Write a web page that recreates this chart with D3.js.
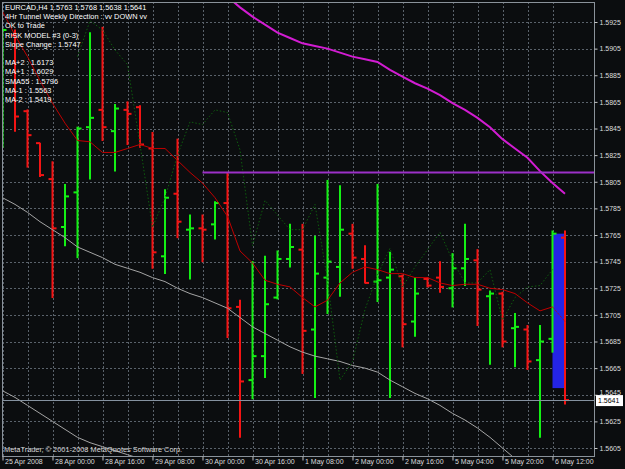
<!DOCTYPE html>
<html>
<head>
<meta charset="utf-8">
<script src="https://cdn.jsdelivr.net/npm/d3@7/dist/d3.min.js"></script>
<style>
body { margin: 0; background: #0b0d0f; }
text { font-family: "Liberation Sans", Arial, sans-serif; }
</style>
</head>
<body>
<div id="chart"></div>
<script>
// H4 bars, EURCAD
const barTimes = [
  "25.04 08:00","25.04 12:00","25.04 16:00","25.04 20:00",
  "28.04 00:00","28.04 04:00","28.04 08:00","28.04 12:00","28.04 16:00","28.04 20:00",
  "29.04 00:00","29.04 04:00","29.04 08:00","29.04 12:00","29.04 16:00","29.04 20:00",
  "30.04 00:00","30.04 04:00","30.04 08:00","30.04 12:00","30.04 16:00","30.04 20:00",
  "01.05 00:00","01.05 04:00","01.05 08:00","01.05 12:00","01.05 16:00","01.05 20:00",
  "02.05 00:00","02.05 04:00","02.05 08:00","02.05 12:00","02.05 16:00","02.05 20:00",
  "04.05 20:00","05.05 00:00","05.05 04:00","05.05 08:00","05.05 12:00","05.05 16:00",
  "05.05 20:00","06.05 00:00","06.05 04:00","06.05 08:00","06.05 12:00","06.05 16:00"
];
const openP  = [1.5836,1.5915,1.5858,1.5834,1.5807,1.5771,1.5797,1.5846,1.5859,1.5843,1.5859,1.5861,1.5830,1.5749,1.5796,1.5769,1.5770,1.5773,1.5789,1.5711,1.5656,1.5674,1.5718,1.5747,1.5754,1.5694,1.5733,1.5741,1.5766,1.5747,1.5730,1.5733,1.5734,1.5700,1.5732,1.5733,1.5725,1.5740,1.5746,1.5719,1.5721,1.5695,1.5694,1.5671,1.5687,1.5763];
const highP  = [1.5920,1.5919,1.5859,1.5834,1.5820,1.5803,1.5846,1.5917,1.5921,1.5863,1.5865,1.5862,1.5842,1.5799,1.5837,1.5780,1.5780,1.5790,1.5812,1.5716,1.5745,1.5749,1.5753,1.5773,1.5773,1.5764,1.5806,1.5802,1.5773,1.5757,1.5803,1.5752,1.5735,1.5733,1.5733,1.5745,1.5751,1.5773,1.5754,1.5723,1.5722,1.5706,1.5697,1.5697,1.5768,1.5768];
const lowP   = [1.5831,1.5843,1.5816,1.5809,1.5718,1.5757,1.5748,1.5807,1.5836,1.5813,1.5833,1.5831,1.5740,1.5736,1.5763,1.5732,1.5745,1.5762,1.5688,1.5613,1.5642,1.5658,1.5717,1.5741,1.5661,1.5643,1.5706,1.5719,1.5740,1.5729,1.5715,1.5643,1.5681,1.5689,1.5726,1.5722,1.5711,1.5727,1.5697,1.5668,1.5681,1.5666,1.5664,1.5613,1.5677,1.5638];
const closeP = [1.5919,1.5854,1.5840,1.5810,1.5770,1.5794,1.5845,1.5853,1.5846,1.5860,1.5856,1.5833,1.5752,1.5793,1.5775,1.5770,1.5769,1.5789,1.5710,1.5655,1.5674,1.5713,1.5747,1.5756,1.5693,1.5736,1.5745,1.5769,1.5748,1.5729,1.5731,1.5739,1.5698,1.5721,1.5727,1.5726,1.5740,1.5747,1.5724,1.5721,1.5685,1.5696,1.5670,1.5685,1.5766,1.5641];

// indicator lines (null = not drawn)
const redMA = [1.5933,1.5915,1.5899,1.5881,1.5864,1.5849,1.5836,1.5835,1.5827,1.5827,1.5830,1.5833,1.5830,1.5830,1.5821,1.5812,1.5804,1.5793,1.5779,1.5753,1.5744,1.5731,1.5728,1.5726,1.5718,1.5711,1.5716,1.5729,1.5737,1.5741,1.5739,1.5736,1.5736,1.5733,1.5733,1.5729,1.5727,1.5728,1.5728,1.5725,1.5724,1.5721,1.5714,1.5708,1.5711,1.5700];
const greenDots = [null,null,null,null,null,null,1.5899,1.5926,1.5919,1.5904,1.5893,1.5833,1.5771,1.5793,1.5825,1.5850,1.5848,1.5859,1.5857,1.5829,1.5757,1.5791,1.5780,1.5769,1.5769,1.5788,1.5731,1.5656,1.5670,1.5709,1.5735,1.5755,1.5726,1.5741,1.5754,1.5767,1.5746,1.5729,1.5729,1.5739,1.5701,1.5718,1.5726,1.5727,1.5739,null];
const sma55 = [null,null,null,null,null,null,null,null,null,null,null,null,null,null,null,null,null,null,1.5944,1.5936,1.5929,1.5923,1.5917,1.5913,1.5909,1.5907,1.5905,1.5902,1.5899,1.5897,1.5895,1.5889,1.5884,1.5879,1.5875,1.5870,1.5864,1.5859,1.5853,1.5846,1.5837,1.5830,1.5823,1.5813,1.5804,1.5796];
const grayUpper = [1.5793,1.5788,1.5782,1.5775,1.5769,1.5763,1.5756,1.5752,1.5748,1.5743,1.5740,1.5737,1.5733,1.5730,1.5725,1.5721,1.5718,1.5714,1.5710,1.5703,1.5696,1.5691,1.5686,1.5681,1.5677,1.5674,1.5672,1.5670,1.5667,1.5665,1.5662,1.5656,1.5651,1.5646,1.5642,1.5637,1.5631,1.5626,1.5620,1.5613,1.5605,1.5597];
const grayLower = [1.5648,1.5643,1.5637,1.5631,1.5625,1.5619,1.5613,1.5609,1.5606,1.5603,1.5600,1.5597];

const hLinePrice = 1.5812, hLineStart = "30.04 00:00";
const boxTimes = ["06.05 12:00", "06.05 16:00"], boxPrices = [1.5766, 1.5650];
const bidPrice = 1.5641;

const priceTicks = [1.5605,1.5625,1.5645,1.5665,1.5685,1.5705,1.5725,1.5745,1.5765,1.5785,1.5805,1.5825,1.5845,1.5865,1.5885,1.5905,1.5925];
const timeTickBars = ["25.04 08:00","28.04 00:00","28.04 16:00","29.04 08:00","30.04 00:00","30.04 16:00","01.05 08:00","02.05 00:00","02.05 16:00","05.05 04:00","05.05 20:00","06.05 12:00"];
const timeTickLabels = ["25 Apr 2008","28 Apr 00:00","28 Apr 16:00","29 Apr 08:00","30 Apr 00:00","30 Apr 16:00","1 May 08:00","2 May 00:00","2 May 16:00","5 May 04:00","5 May 20:00","6 May 12:00"];

const infoLines = [
  "EURCAD,H4  1.5763 1.5768 1.5638 1.5641",
  "4Hr Tunnel Weekly Direction : vv DOWN vv",
  "OK to Trade",
  "RISK MODEL #3 (0-3)",
  "Slope Change : 1.5747",
  "",
  "MA+2 : 1.6173",
  "MA+1 : 1.6029",
  "SMA55 : 1.5796",
  "MA-1 : 1.5563",
  "MA-2 : 1.5419"
];

const width = 625, height = 469;
const plot = {left: 2, right: 594, top: 2, bottom: 456};

const svg = d3.select("#chart").append("svg")
  .attr("width", width).attr("height", height)
  .style("display", "block");

svg.append("rect").attr("width", width).attr("height", height).attr("fill", "#0b0d0f");

svg.append("clipPath").attr("id", "plotclip")
  .append("rect")
  .attr("x", plot.left).attr("y", plot.top)
  .attr("width", plot.right - plot.left).attr("height", plot.bottom - plot.top);

const x = d3.scalePoint().domain(barTimes).range([2.5, 565]);
const y = d3.scaleLinear().domain([1.5605, 1.5925]).range([448, 22]);

const g = svg.append("g").attr("clip-path", "url(#plotclip)");

// grid
g.selectAll(".hgrid").data(priceTicks).join("line")
  .attr("x1", plot.left).attr("x2", plot.right)
  .attr("y1", d => Math.round(y(d)) + 0.5).attr("y2", d => Math.round(y(d)) + 0.5)
  .attr("stroke", "#5a626b").attr("stroke-dasharray", "2,2");
g.selectAll(".vgrid").data(barTimes.filter((d, i) => i % 2 === 0)).join("line")
  .attr("x1", d => Math.round(x(d)) + 0.5).attr("x2", d => Math.round(x(d)) + 0.5)
  .attr("y1", plot.top).attr("y2", plot.bottom)
  .attr("stroke", "#5a626b").attr("stroke-dasharray", "2,2");

// blue rectangle object (background)
g.append("rect")
  .attr("x", x(boxTimes[0])).attr("width", x(boxTimes[1]) - x(boxTimes[0]))
  .attr("y", y(boxPrices[0])).attr("height", y(boxPrices[1]) - y(boxPrices[0]))
  .attr("fill", "#2424e6");

// bars
const bars = g.selectAll(".bar").data(barTimes).join("g")
  .attr("stroke", (d, i) => closeP[i] >= openP[i] ? "#14f014" : "#f41414")
  .attr("stroke-width", 2);
bars.append("line")
  .attr("x1", d => x(d)).attr("x2", d => x(d))
  .attr("y1", (d, i) => y(highP[i]) - 0.5).attr("y2", (d, i) => y(lowP[i]) + 0.5);
bars.append("line")
  .attr("x1", d => x(d) - 4).attr("x2", d => x(d))
  .attr("y1", (d, i) => y(openP[i])).attr("y2", (d, i) => y(openP[i]));
bars.append("line")
  .attr("x1", d => x(d)).attr("x2", d => x(d) + 4)
  .attr("y1", (d, i) => y(closeP[i])).attr("y2", (d, i) => y(closeP[i]));

// indicator lines
const line = d3.line()
  .defined(d => d.v != null)
  .x(d => x(d.t)).y(d => y(d.v));
const pts = arr => arr.map((v, i) => ({t: barTimes[i], v: v}));

g.append("path").datum(pts(grayUpper)).attr("d", line)
  .attr("fill", "none").attr("stroke", "#a4a4a4").attr("stroke-width", 1);
g.append("path").datum(pts(grayLower)).attr("d", line)
  .attr("fill", "none").attr("stroke", "#a4a4a4").attr("stroke-width", 1);
g.append("path").datum(pts(greenDots)).attr("d", line)
  .attr("fill", "none").attr("stroke", "#0e5c0e").attr("stroke-width", 1)
  .attr("stroke-dasharray", "1.5,2");
g.append("path").datum(pts(redMA).slice(0, 45)).attr("d", line)
  .attr("fill", "none").attr("stroke", "#c00000").attr("stroke-width", 1);
g.append("path").datum(pts(redMA).slice(44)).attr("d", line)
  .attr("fill", "none").attr("stroke", "#c00000").attr("stroke-width", 1)
  .attr("stroke-dasharray", "1,1");
g.append("path").datum(pts(sma55)).attr("d", line)
  .attr("fill", "none").attr("stroke", "#d21cd2").attr("stroke-width", 2);

// horizontal trend line object
g.append("line")
  .attr("x1", x(hLineStart)).attr("x2", plot.right)
  .attr("y1", y(hLinePrice)).attr("y2", y(hLinePrice))
  .attr("stroke", "#9c30c8").attr("stroke-width", 2);

// bid line
g.append("line")
  .attr("x1", plot.left).attr("x2", plot.right)
  .attr("y1", Math.round(y(bidPrice)) + 0.5).attr("y2", Math.round(y(bidPrice)) + 0.5)
  .attr("stroke", "#8592a0").attr("stroke-width", 1);

// frame
svg.append("rect")
  .attr("x", plot.left + 0.5).attr("y", plot.top + 0.5)
  .attr("width", plot.right - plot.left).attr("height", plot.bottom - plot.top)
  .attr("fill", "none").attr("stroke", "#8a929a");

// price axis
const yAxis = svg.append("g")
  .attr("transform", `translate(${plot.right + 0.5},0)`)
  .call(d3.axisRight(y).tickValues(priceTicks).tickFormat(d3.format(".4f")).tickSize(3).tickPadding(2));
yAxis.select(".domain").remove();
yAxis.selectAll("line").attr("stroke", "#c8c8c8");
yAxis.selectAll("text").attr("fill", "#dcdcdc").style("font-size", "7px")
  .style("font-family", "'Liberation Sans', Arial, sans-serif")
  .attr("dy", d => Math.abs(d - 1.5645) < 1e-6 ? "-0.1em" : "0.32em");

// bid label
const bidG = svg.append("g").attr("transform", `translate(0,${y(bidPrice)})`);
bidG.append("rect").attr("x", plot.right + 2).attr("y", -5).attr("width", 27).attr("height", 11)
  .attr("fill", "#ffffff");
bidG.append("text").attr("x", plot.right + 4).attr("y", 3)
  .attr("fill", "#000").style("font-size", "7px").text(d3.format(".4f")(bidPrice));

// time axis
const xAxis = svg.append("g")
  .attr("transform", `translate(0,${plot.bottom + 0.5})`)
  .call(d3.axisBottom(x).tickValues(timeTickBars)
    .tickFormat((d, i) => timeTickLabels[i]).tickSize(4).tickPadding(-1));
xAxis.select(".domain").remove();
xAxis.selectAll("line").attr("stroke", "#c8c8c8");
xAxis.selectAll("text").attr("fill", "#dcdcdc").style("font-size", "7px")
  .style("font-family", "'Liberation Sans', Arial, sans-serif")
  .attr("text-anchor", "start").attr("dx", 2);

// info text
svg.selectAll(".info").data(infoLines).join("text")
  .attr("x", 5).attr("y", (d, i) => 10 + i * 9.2)
  .attr("fill", "#ffffff").style("font-size", "7.4px")
  .text(d => d);

svg.append("text").attr("x", 4).attr("y", 451.5)
  .attr("fill", "#d8d8d8").style("font-size", "7.4px")
  .text("MetaTrader, \u00a9 2001-2008 MetaQuotes Software Corp.");
</script>
</body>
</html>
